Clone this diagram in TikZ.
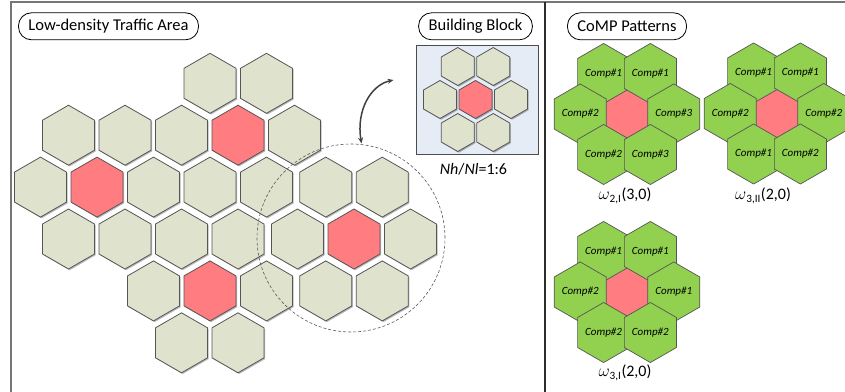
\documentclass[tikz,border=0pt]{standalone}
\usepackage{fontspec}
\setmainfont{Carlito}
\usetikzlibrary{shapes.geometric,shadows,arrows.meta}
\definecolor{hexfill}{RGB}{223,227,205}
\definecolor{hexred}{RGB}{255,124,128}
\definecolor{compgreen}{RGB}{146,208,80}
\definecolor{bbblue}{RGB}{230,236,246}
\definecolor{hexline}{RGB}{85,85,85}
\definecolor{framegray}{RGB}{118,118,118}
\definecolor{divgray}{RGB}{45,45,45}
\tikzset{
  hexbase/.style={regular polygon, regular polygon sides=6, shape border rotate=30,
    inner sep=0pt, outer sep=0pt, draw=hexline, line width=0.8pt},
  hexshadow/.style={drop shadow={shadow xshift=1.2pt, shadow yshift=-1.2pt, fill=black, opacity=0.28}},
  bighex/.style={hexbase, hexshadow, minimum size=60pt, fill=hexfill},
  bigred/.style={bighex, fill=hexred},
  smallhex/.style={hexbase, hexshadow, minimum size=38pt, fill=hexfill},
  smallred/.style={smallhex, fill=hexred},
  comphex/.style={hexbase, minimum size=54pt, fill=compgreen, draw=hexline, line width=0.7pt,
    font=\fontsize{11}{12}\selectfont\itshape},
  compred/.style={comphex, fill=hexred},
  tagbox/.style={draw=black, line width=0.8pt, rounded corners=13pt, minimum height=27pt,
    inner xsep=10pt, inner ysep=0pt, fill=white, font=\fontsize{16.5}{18}\selectfont},
  captxt/.style={inner sep=0pt, font=\fontsize{16}{18}\selectfont},
  zoomring/.style={circle, draw=black!65, densely dashed, line width=0.6pt, inner sep=0pt},
  linkarrow/.style={draw=black!75, line width=1.5pt, {Stealth[length=6pt,width=5pt]}-{Stealth[length=6pt,width=5pt]}},
  bbframe/.style={draw=black!70, line width=1pt, fill=bbblue}
}
\newcommand{\omg}{{\fontsize{18}{18}\selectfont$\omega$}}
\begin{document}
\begin{tikzpicture}[x=1pt,y=-1pt]
\useasboundingbox (0,0) rectangle (845,391);
% frame
\draw[framegray, line width=1.6pt] (11,395) -- (11,2) -- (850,2);
\draw[divgray, line width=1.3pt] (545,2) -- (545,395);

% ---------- Low-density traffic area ----------
\node[tagbox] (ltag) at (108.5,26.3) {Low-density Traffic Area};
\foreach \n/\x/\y in {a1/210/83.3, a2/266.5/83.3,
  b1/68.5/135.2, b2/125/135.2, b3/181.5/135.2, b5/294.5/135.2,
  c1/40.5/187.1, c3/153.5/187.1, c4/210/187.1, c5/266.5/187.1,
  d1/68.5/239, d2/125/239, d3/181.5/239, d4/238/239,
  e1/153.5/290.9, e3/266.5/290.9,
  f1/181.5/342.8, f2/238/342.8,
  k1/325.75/187.1, k2/382.25/187.1, k3/297.5/239, k5/410.5/239,
  k6/325.75/290.9, k7/382.25/290.9}
  \node[bighex] (\n) at (\x,\y) {};
\foreach \n/\x/\y in {b4/238/135.2, c2/97/187.1, e2/210/290.9, k4/354/239}
  \node[bigred] (\n) at (\x,\y) {};
\node[zoomring, minimum size=188pt] (zoomc) at (351,238) {};

% ---------- Building block ----------
\node[tagbox] (btag) at (475.5,26.3) {Building Block};
\node[bbframe, minimum width=122pt, minimum height=109pt, inner sep=0pt] (bb) at (477,99.5) {};
\foreach \n/\x/\y in {s1/457.75/66.5, s2/493.25/66.5, s3/440/99.5, s5/511/99.5,
  s6/457.75/132.5, s7/493.25/132.5}
  \node[smallhex] (\n) at (\x,\y) {};
\node[smallred] (s4) at (475.5,99.5) {};
\node[captxt] (ratio) at (473.5,169) {\textit{Nh}/\textit{Nl}=1:6};

% link arrow
\coordinate (arrS) at (361.5,143.5);
\coordinate (arrE) at (393.5,80);
\draw[linkarrow] (arrS) .. controls (356,110) and (371,85) .. (arrE);

% ---------- CoMP patterns ----------
\node[tagbox] (ctag) at (627,26.3) {CoMP Patterns};
% pattern 1
\node[compred] (p1c) at (627,114) {};
\node[comphex] (p1a) at (603.62,73.5) {Comp\#1};
\node[comphex] (p1b) at (650.38,73.5) {Comp\#1};
\node[comphex] (p1l) at (580.23,114) {Comp\#2};
\node[comphex] (p1r) at (673.77,114) {Comp\#3};
\node[comphex] (p1d) at (603.62,154.5) {Comp\#2};
\node[comphex] (p1e) at (650.38,154.5) {Comp\#3};
\node[captxt] (cap1) at (625,196) {\omg\textsubscript{2,I}(3,0)};
% pattern 2
\node[compred] (p2c) at (777,113.5) {};
\node[comphex] (p2a) at (753.62,73) {Comp\#1};
\node[comphex] (p2b) at (800.38,73) {Comp\#1};
\node[comphex] (p2l) at (730.23,113.5) {Comp\#2};
\node[comphex] (p2r) at (823.77,113.5) {Comp\#2};
\node[comphex] (p2d) at (753.62,154) {Comp\#1};
\node[comphex] (p2e) at (800.38,154) {Comp\#2};
\node[captxt] (cap2) at (763,196) {\omg\textsubscript{3,II}(2,0)};
% pattern 3
\node[compred] (p3c) at (627,292) {};
\node[comphex] (p3a) at (603.62,251.5) {Comp\#1};
\node[comphex] (p3b) at (650.38,251.5) {Comp\#1};
\node[comphex] (p3l) at (580.23,292) {Comp\#2};
\node[comphex] (p3r) at (673.77,292) {Comp\#1};
\node[comphex] (p3d) at (603.62,332.5) {Comp\#2};
\node[comphex] (p3e) at (650.38,332.5) {Comp\#2};
\node[captxt] (cap3) at (625,373) {\omg\textsubscript{3,I}(2,0)};
\end{tikzpicture}
\end{document}
